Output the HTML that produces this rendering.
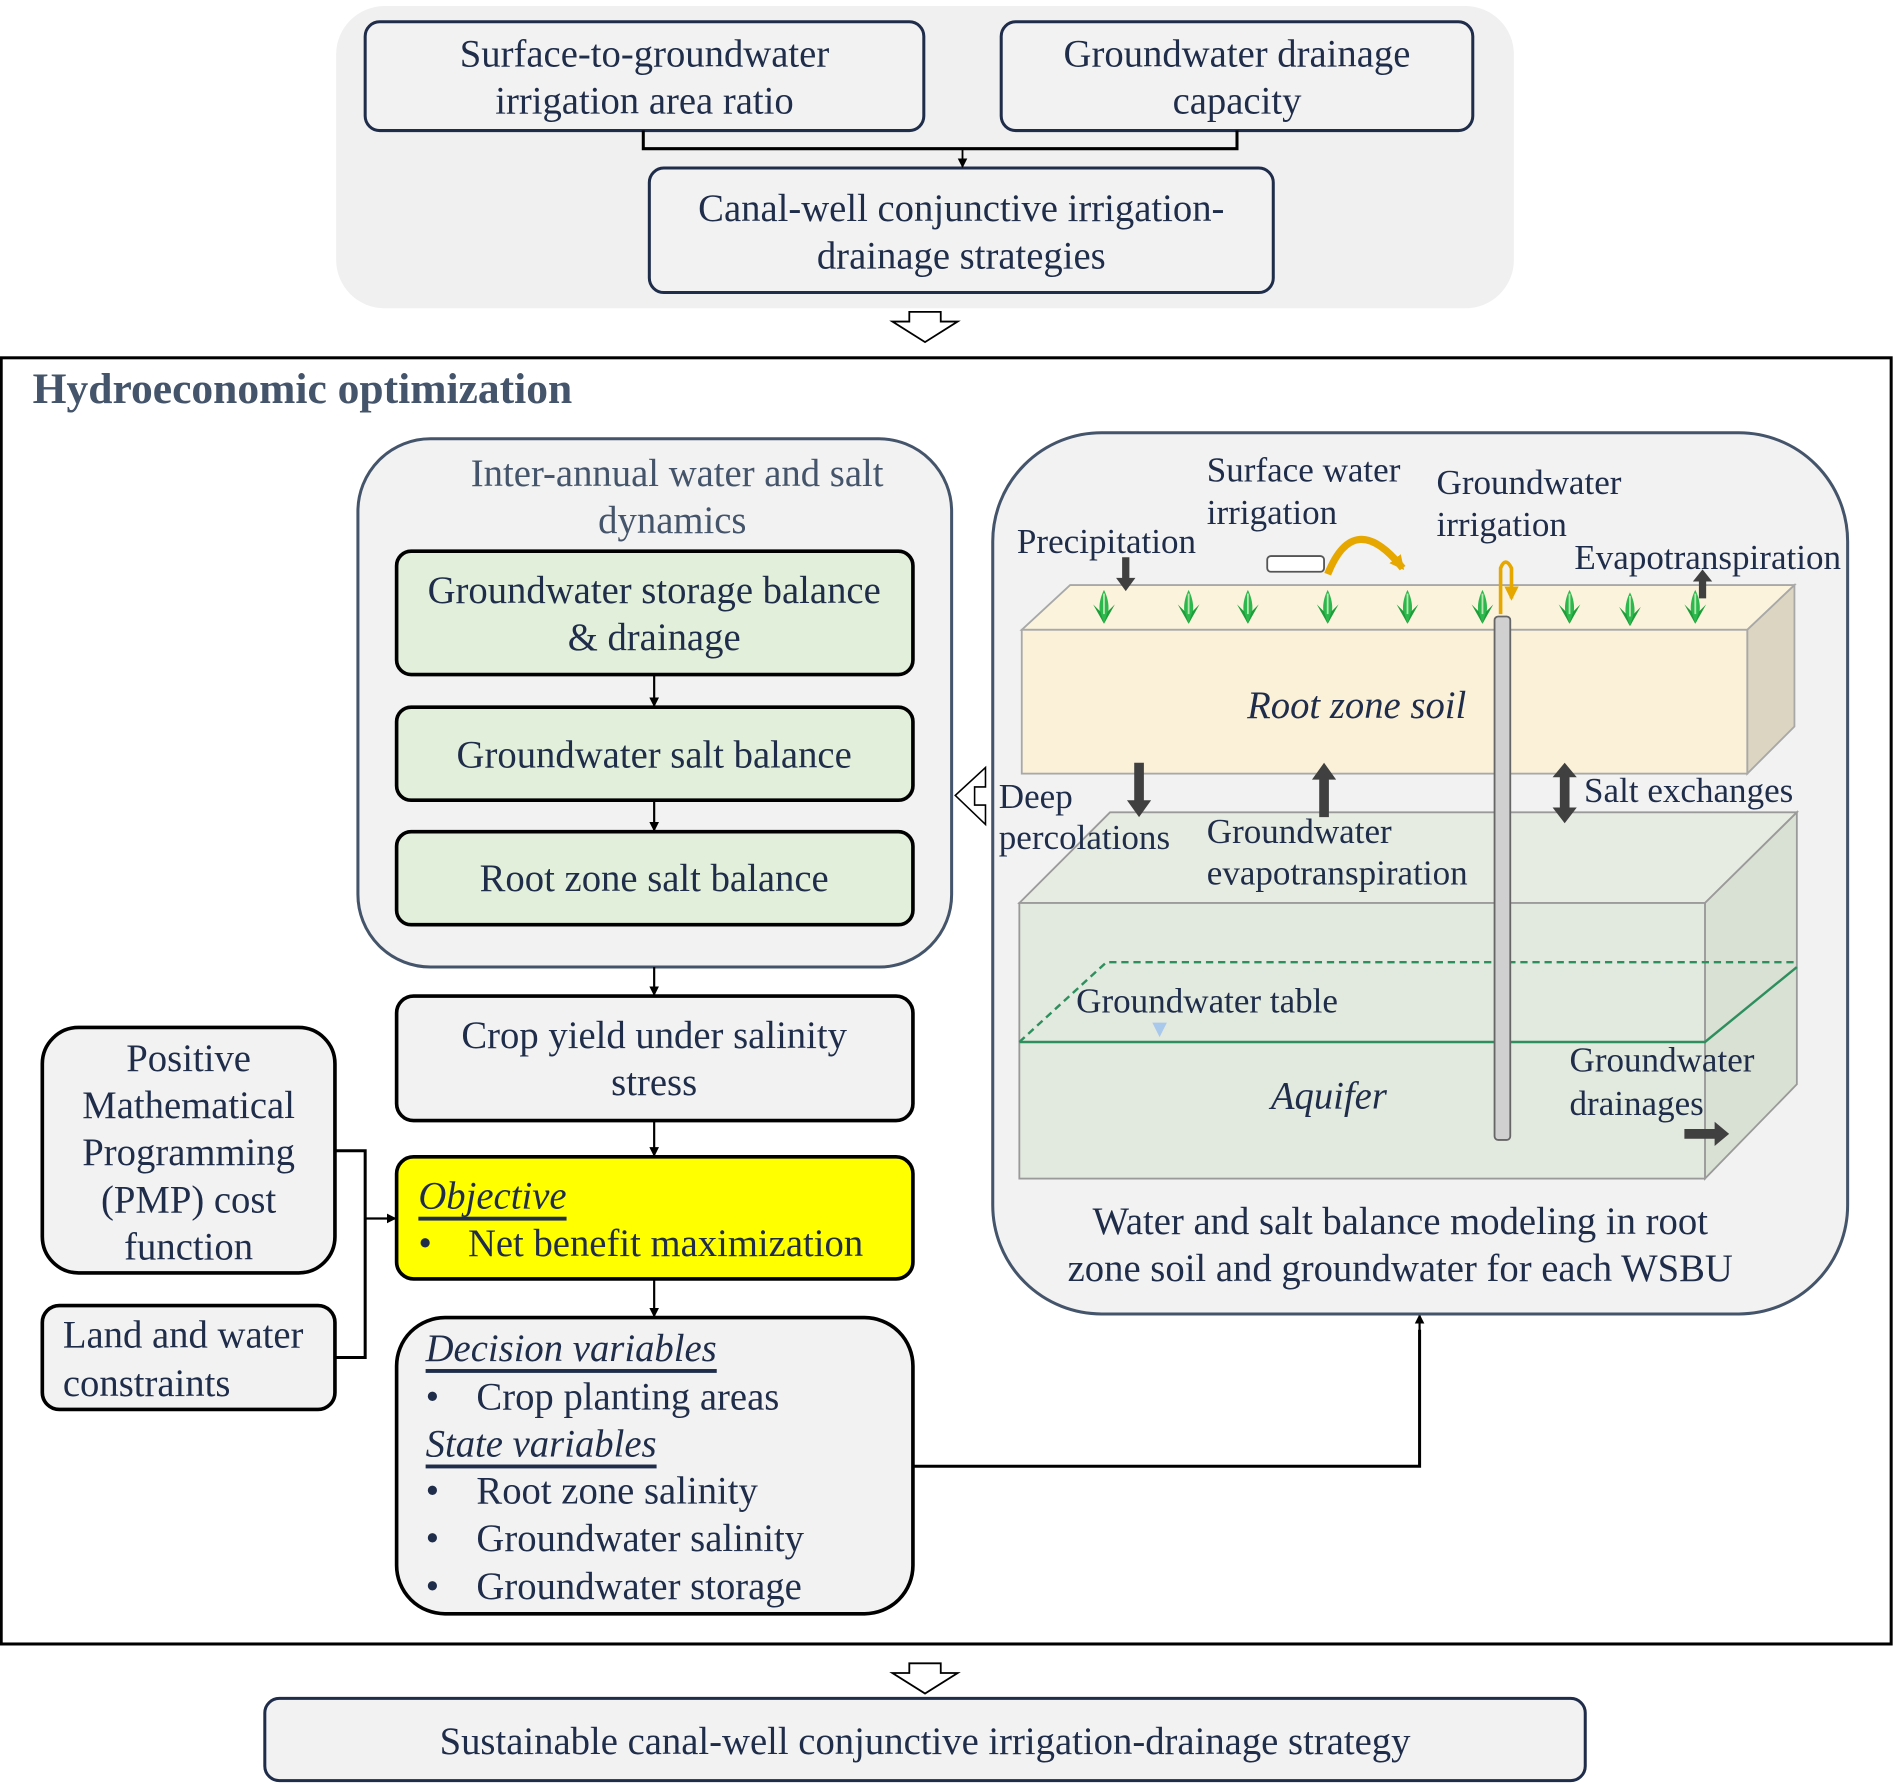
<!DOCTYPE html>
<html><head><meta charset="utf-8"><style>html,body{margin:0;padding:0;background:#fff}svg{display:block}</style></head>
<body>
<svg width="1896" height="1783" viewBox="0 0 1568 1475" preserveAspectRatio="none" xmlns="http://www.w3.org/2000/svg" font-family="Liberation Serif, serif" fill="#1f2d4a">
<defs>
<marker id="ah" markerWidth="8" markerHeight="8" refX="7" refY="4" orient="auto" markerUnits="userSpaceOnUse"><path d="M0,0 L8,4 L0,8 z" fill="#000"/></marker>
<marker id="ah2" markerWidth="12" markerHeight="12" refX="10" refY="6" orient="auto" markerUnits="userSpaceOnUse"><path d="M0,0 L12,6 L0,12 z" fill="#e6a800"/></marker>
<g id="plant"><path d="M0,16 C-5,8 -5,-2 0,-12 C5,-2 5,8 0,16 z" fill="#2db84d"/><path d="M0,16 L-9,0 L-3,6 z M0,16 L9,0 L3,6z" fill="#1e9e3a"/><path d="M0,-9 L0,8" stroke="#b8e8b0" stroke-width="1.5"/></g>
</defs>
<!-- top panel -->
<rect x="278" y="5" width="974" height="250" rx="40" fill="#f0f0f0"/>
<g fill="#f2f2f2" stroke="#1f2d4a" stroke-width="2.5">
<rect x="302" y="18" width="462" height="90" rx="12"/>
<rect x="828" y="18" width="390" height="90" rx="12"/>
<rect x="537" y="139" width="516" height="103" rx="12"/>
</g>
<path d="M532,108 V123 H1023 V108" fill="none" stroke="#000" stroke-width="2.5"/>
<line x1="796" y1="123" x2="796" y2="138" stroke="#000" stroke-width="1.5" marker-end="url(#ah)"/>
<g font-size="32" text-anchor="middle" dominant-baseline="central">
<text x="533" y="45">Surface-to-groundwater</text><text x="533" y="84">irrigation area ratio</text>
<text x="1023" y="45">Groundwater drainage</text><text x="1023" y="84">capacity</text>
<text x="795" y="173">Canal-well conjunctive irrigation-</text><text x="795" y="212">drainage strategies</text>
</g>
<path d="M752,258 H778 V266 H792 L765,283 L738,266 H752 z" fill="#fff" stroke="#000" stroke-width="1.5"/>
<!-- main frame -->
<rect x="1" y="296" width="1563" height="1064" fill="none" stroke="#000" stroke-width="2.5"/>
<text x="27" y="322" font-size="36" font-weight="bold" fill="#44546a" dominant-baseline="central">Hydroeconomic optimization</text>
<!-- inter-annual panel -->
<rect x="296" y="363" width="491" height="437" rx="60" fill="#f2f2f2" stroke="#44546a" stroke-width="2.5"/>
<g font-size="32" text-anchor="middle" dominant-baseline="central" fill="#44546a">
<text x="560" y="392">Inter-annual water and salt</text><text x="556" y="431">dynamics</text></g>
<g fill="#e2efda" stroke="#000" stroke-width="3">
<rect x="328" y="456" width="427" height="102" rx="12"/>
<rect x="328" y="585" width="427" height="77" rx="12"/>
<rect x="328" y="688" width="427" height="77" rx="12"/>
</g>
<g fill="#f2f2f2" stroke="#000" stroke-width="3">
<rect x="328" y="824" width="427" height="103" rx="14"/>
<rect x="328" y="957" width="427" height="101" rx="14" fill="#ffff00"/>
<rect x="328" y="1090" width="427" height="245" rx="40"/>
<rect x="35" y="850" width="242" height="203" rx="30"/>
<rect x="35" y="1080" width="242" height="86" rx="14"/>
</g>
<g stroke="#000" stroke-width="1.8" marker-end="url(#ah)">
<line x1="541" y1="558" x2="541" y2="584"/><line x1="541" y1="662" x2="541" y2="687"/>
<line x1="541" y1="800" x2="541" y2="823"/><line x1="541" y1="927" x2="541" y2="956"/>
<line x1="541" y1="1058" x2="541" y2="1089"/>
<line x1="302" y1="1008" x2="327" y2="1008"/>
<line x1="1174" y1="1213" x2="1174" y2="1088"/>
</g>
<path d="M277,952 H302 V1123 H277" fill="none" stroke="#000" stroke-width="2.5"/>
<path d="M755,1213 H1174 V1100" fill="none" stroke="#000" stroke-width="2.5"/>
<g font-size="32" text-anchor="middle" dominant-baseline="central">
<text x="541" y="489">Groundwater storage balance</text><text x="541" y="528">&amp; drainage</text>
<text x="541" y="625">Groundwater salt balance</text>
<text x="541" y="727">Root zone salt balance</text>
<text x="541" y="857">Crop yield under salinity</text><text x="541" y="896">stress</text>
<text x="156" y="876">Positive</text><text x="156" y="915">Mathematical</text><text x="156" y="954">Programming</text><text x="156" y="993">(PMP) cost</text><text x="156" y="1032">function</text>
</g>
<g font-size="32" dominant-baseline="central">
<text x="346" y="990" font-style="italic" text-decoration="underline">Objective</text>
<text x="346" y="1029">•</text><text x="387" y="1029">Net benefit maximization</text>
<text x="52" y="1105">Land and water</text><text x="52" y="1145">constraints</text>
<text x="352" y="1116" font-style="italic" text-decoration="underline">Decision variables</text>
<text x="352" y="1156">•</text><text x="394" y="1156">Crop planting areas</text>
<text x="352" y="1195" font-style="italic" text-decoration="underline">State variables</text>
<text x="352" y="1234">•</text><text x="394" y="1234">Root zone salinity</text>
<text x="352" y="1273">•</text><text x="394" y="1273">Groundwater salinity</text>
<text x="352" y="1313">•</text><text x="394" y="1313">Groundwater storage</text>
</g>
<!-- right panel -->
<rect x="821" y="358" width="707" height="729" rx="90" fill="#f2f2f2" stroke="#44546a" stroke-width="2.5"/>
<path d="M815,635 V651 H806 V666 H815 V682 L790,658 z" fill="#fff" stroke="#000" stroke-width="1.3"/>
<!-- aquifer -->
<g stroke="#9a9a9a" stroke-width="1.5">
<path d="M843,747 L918,672 H1486 L1410,747 z" fill="#e6ece2"/>
<path d="M1410,747 L1486,672 V897 L1410,975 z" fill="#d9e0d4"/>
<rect x="843" y="747" width="567" height="228" fill="#e2e9de"/>
</g>
<path d="M843,862 L915,796 H1486" fill="none" stroke="#2e8f5e" stroke-width="2" stroke-dasharray="6,4"/>
<path d="M843,862 H1410 L1486,800" fill="none" stroke="#2e8f5e" stroke-width="2"/>
<path d="M953,846 H965 L959,858 z" fill="#a8c8ec"/>
<!-- root zone -->
<g stroke="#a8a8a8" stroke-width="1.5">
<path d="M845,521 L885,484 H1484 L1445,521 z" fill="#fbf3dc"/>
<path d="M1445,521 L1484,484 V601 L1445,640 z" fill="#dcd5c2"/>
<rect x="845" y="521" width="600" height="119" fill="#fbf0d8"/>
</g>
<!-- well -->
<rect x="1236" y="510" width="13" height="433" rx="3" fill="#d0d0d0" stroke="#666" stroke-width="1.5"/>
<path d="M1241,508 V470 Q1245,460 1250,470 V495" fill="none" stroke="#e6a800" stroke-width="3" marker-end="url(#ah2)"/>
<!-- surface pipe -->
<rect x="1048" y="460" width="47" height="13" rx="3" fill="#fff" stroke="#555" stroke-width="1.5"/>
<path d="M1098,475 Q1120,420 1160,470" fill="none" stroke="#e6a800" stroke-width="6" marker-end="url(#ah2)"/>
<!-- plants -->
<use href="#plant" x="913" y="500"/><use href="#plant" x="983" y="500"/><use href="#plant" x="1032" y="500"/>
<use href="#plant" x="1098" y="500"/><use href="#plant" x="1164" y="500"/><use href="#plant" x="1226" y="500"/>
<use href="#plant" x="1298" y="500"/><use href="#plant" x="1348" y="502"/><use href="#plant" x="1402" y="500"/>
<!-- dark arrows -->
<g fill="#404040">
<path d="M928,461 H934 V478 H939 L931,489 L923,478 H928 z"/>
<path d="M1405,495 H1411 V481 H1416 L1408,471 L1400,481 H1405 z"/>
<path d="M938,631 H946 V662 H952 L942,676 L932,662 H938 z"/>
<path d="M1091,676 H1099 V645 H1105 L1095,631 L1085,645 H1091 z"/>
<path d="M1290,643 H1298 V668 H1304 L1294,681 L1284,668 H1290 V643 H1284 L1294,631 L1304,643 z"/>
<path d="M1393,934 H1418 V928 L1430,938 L1418,948 V942 H1393 z"/>
</g>
<g font-size="29" dominant-baseline="central">
<text x="841" y="448">Precipitation</text>
<text x="998" y="389">Surface water</text><text x="998" y="424">irrigation</text>
<text x="1188" y="399">Groundwater</text><text x="1188" y="434">irrigation</text>
<text x="1302" y="461">Evapotranspiration</text>
<text x="826" y="659">Deep</text><text x="826" y="693">percolations</text>
<text x="998" y="688">Groundwater</text><text x="998" y="722">evapotranspiration</text>
<text x="1310" y="654">Salt exchanges</text>
<text x="890" y="828">Groundwater table</text>
<text x="1298" y="877">Groundwater</text><text x="1298" y="913">drainages</text>
</g>
<g font-size="32" text-anchor="middle" dominant-baseline="central">
<text x="1122" y="584" font-style="italic">Root zone soil</text>
<text x="1099" y="907" font-style="italic">Aquifer</text>
<text x="1158" y="1011">Water and salt balance modeling in root</text>
<text x="1158" y="1050">zone soil and groundwater for each WSBU</text>
</g>
<!-- bottom -->
<path d="M752,1376 H778 V1384 H792 L765,1401 L738,1384 H752 z" fill="#fff" stroke="#000" stroke-width="1.5"/>
<rect x="219" y="1405" width="1092" height="68" rx="12" fill="#f2f2f2" stroke="#1f2d4a" stroke-width="2.5"/>
<text x="765" y="1441" font-size="32" text-anchor="middle" dominant-baseline="central">Sustainable canal-well conjunctive irrigation-drainage strategy</text>
</svg>
</body></html>
